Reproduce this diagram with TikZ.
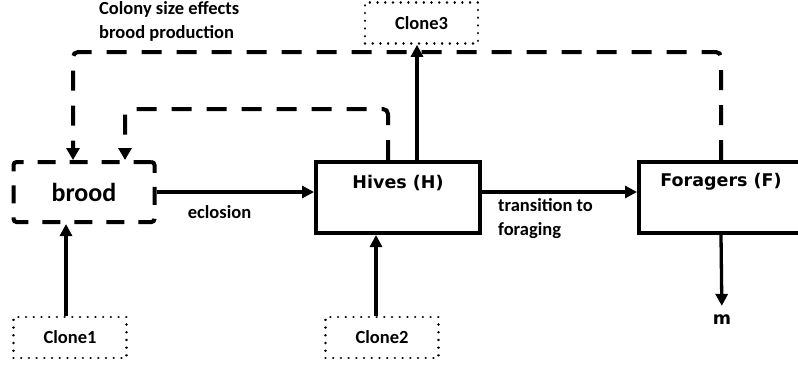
\documentclass[tikz,border=0pt]{standalone}
\usepackage{fontspec}
\setmainfont{Carlito}
\newfontfamily\boxfont{DejaVu Sans}
\usetikzlibrary{arrows.meta,positioning}

\begin{document}
\begin{tikzpicture}[x=1pt,y=-1pt,
		every node/.style={font=\bfseries\fontsize{18.5}{24}\selectfont},
		stock/.style={draw,line width=4pt,minimum width=164pt,minimum height=71pt,inner sep=0pt},
		broodbox/.style={draw,line width=4pt,dash pattern=on 18pt off 14pt,rounded corners=3pt,minimum width=141pt,minimum height=60pt,inner sep=0pt},
		clonebox/.style={draw,line width=2.6pt,dash pattern=on 0.01pt off 7.7pt,line cap=round,minimum width=113pt,minimum height=41pt,inner sep=0pt},
		stocklabel/.style={font=\boxfont\bfseries\fontsize{17.5}{20}\selectfont},
		flow/.style={line width=3.3pt,-{Triangle[length=12pt,width=12pt]}},
		feedback/.style={line width=4pt,dash pattern=on 20pt off 15pt,rounded corners=5pt,-{Triangle[length=12pt,width=13pt]}}
	]
	\useasboundingbox (0,0) rectangle (798,365);
	
	% boxes
	\node[broodbox] (brood) at (84,192) {\fontsize{26}{30}\selectfont brood};
	\node[stock] (hives) at (398,197.5) {};
	\node[stock] (foragers) at (721,197.5) {};
	\node[stocklabel] (hiveslbl) at ([yshift=-23pt]hives.north) {Hives (H)};
	\node[stocklabel] (forlbl) at ([yshift=-22pt]foragers.north) {Foragers (F)};
	
	% clones
	\node[clonebox] (clone1) at (70,337.5) {Clone1};
	\node[clonebox] (clone2) at (382,337.5) {Clone2};
	\node[clonebox] (clone3) at (421.5,23) {Clone3};
	\node[stocklabel,inner sep=9pt] (mort) at (722,320) {m};
	
	% flows
	\draw[flow] (brood.east) -- (brood.east -| hives.west)
		node[pos=0.4,below=9pt] (eclo) {eclosion};
	\draw[flow] (hives.east |- brood.east) -- (foragers.west |- brood.east);
	\node[anchor=north west,align=left,inner sep=0pt] (trans) at (498,198) {transition to\\foraging};
	\draw[flow] ([xshift=-4pt]clone1.north) -- ([xshift=-4pt]clone1.north |- brood.south);
	\draw[flow] ([xshift=-6pt]clone2.north) -- ([xshift=-6pt]clone2.north |- hives.south);
	\draw[flow] ([xshift=-4.5pt]clone3.south |- hives.north) -- ([xshift=-4.5pt]clone3.south);
	\draw[flow] (foragers.south) -- (mort);
	
	% feedbacks
	\coordinate (fb1) at (73,52);
	\coordinate (fb2) at (125,109);
	\draw[feedback] (foragers.north) |- (fb1) -- (fb1 |- brood.north);
	\draw[feedback] ([xshift=-10pt]hives.north) |- (fb2) -- (fb2 |- brood.north);
	\node[anchor=west,align=left,inner sep=0pt] (effect) at (99,21) {Colony size effects\\brood production};
	
\end{tikzpicture}
\end{document}
